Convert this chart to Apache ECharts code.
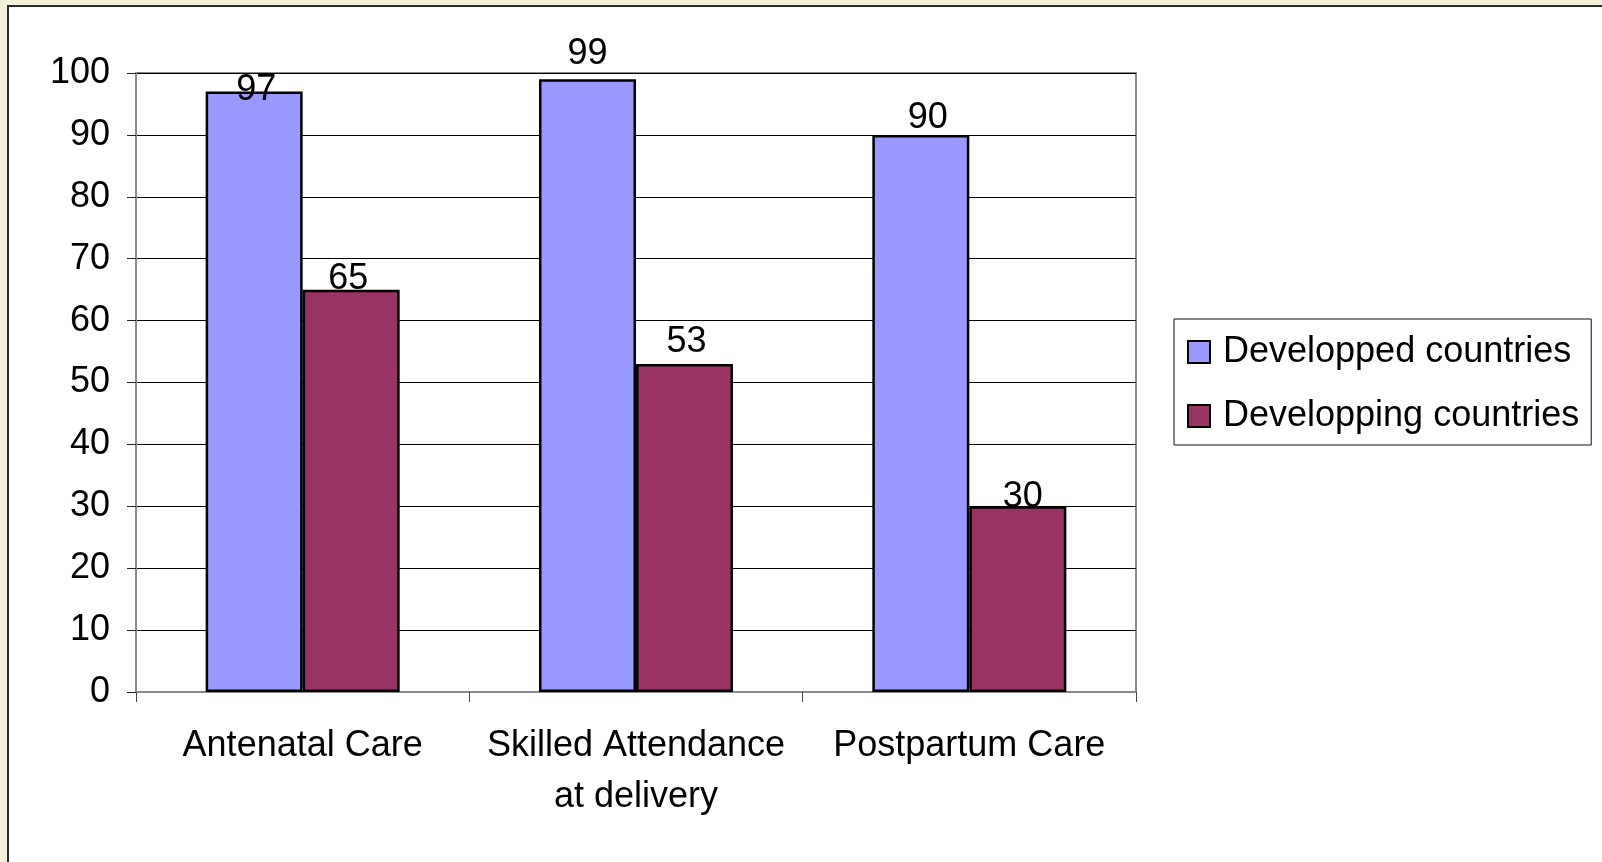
<!DOCTYPE html>
<html>
<head>
<meta charset="utf-8">
<script src="https://cdn.jsdelivr.net/npm/echarts@6/dist/echarts.min.js"></script>
<style>
  html, body { margin: 0; padding: 0; background: #F2F0D9; }
  #chart { width: 1602px; height: 862px; }
</style>
</head>
<body>
<div id="chart"></div>
<script>
// Coverage of maternal care services, developed vs developing countries (%)
const categories = ['Antenatal Care', 'Skilled Attendance\nat delivery', 'Postpartum Care'];
const developed = [97, 99, 90];
const developing = [65, 53, 30];
const yTicks = { min: 0, max: 100, interval: 10 };

// Per-label nudges [dx, dy] for the value labels
const developedLabelNudge = [[2, 17], [0, -7], [7, 1]];
const developingLabelNudge = [[-3, 7], [2, -4], [5, 9]];

const FONT = "'Liberation Sans', Arial, sans-serif";

function withLabels(values, nudges) {
  return values.map((v, i) => ({
    value: v,
    label: { offset: nudges[i] }
  }));
}

const barLabel = {
  show: true,
  position: 'top',
  distance: 0,
  color: '#000',
  fontSize: 36,
  fontFamily: FONT
};

const chart = echarts.init(document.getElementById('chart'), null, { renderer: 'canvas' });

chart.setOption({
  backgroundColor: '#F2F0D9',
  animation: false,
  graphic: [{
    type: 'rect',
    z: -100,
    silent: true,
    shape: { x: 8, y: 6, width: 1620, height: 880 },
    style: { fill: '#ffffff', stroke: '#2a2a2a', lineWidth: 2 }
  }],
  grid: {
    left: 136, top: 73, right: 466, bottom: 170,
    show: true,
    backgroundColor: '#ffffff',
    borderColor: '#8a8a8a',
    borderWidth: 2
  },
  legend: {
    orient: 'vertical',
    left: 1174,
    top: 319,
    padding: [15, 12, 11, 13],
    itemWidth: 22,
    itemHeight: 22,
    itemGap: 28,
    borderColor: '#111',
    borderWidth: 1,
    backgroundColor: '#ffffff',
    icon: 'rect',
    textStyle: { fontSize: 36, fontFamily: FONT, color: '#000', padding: [0, 0, 0, 8] },
    data: [
      { name: 'Developped countries', itemStyle: { borderColor: '#000', borderWidth: 2 } },
      { name: 'Developping countries', itemStyle: { borderColor: '#000', borderWidth: 2 } }
    ]
  },
  xAxis: {
    type: 'category',
    data: categories,
    axisLine: { show: true, lineStyle: { color: '#8a8a8a', width: 2 } },
    axisTick: { show: true, inside: false, length: 10, lineStyle: { color: '#444', width: 1 } },
    axisLabel: {
      margin: 29,
      color: '#000',
      fontSize: 36,
      fontFamily: FONT,
      lineHeight: 51,
      interval: 0
    },
    splitLine: { show: false }
  },
  yAxis: {
    type: 'value',
    min: yTicks.min,
    max: yTicks.max,
    interval: yTicks.interval,
    axisLine: { show: true, lineStyle: { color: '#8a8a8a', width: 2 } },
    axisTick: { show: true, inside: false, length: 9, lineStyle: { color: '#222', width: 1 } },
    axisLabel: { margin: 26, color: '#000', fontSize: 36, fontFamily: FONT },
    splitLine: { show: true, lineStyle: { color: '#000', width: 1 } }
  },
  series: [
    {
      name: 'Developped countries',
      type: 'bar',
      barWidth: 97,
      barGap: '0%',
      data: withLabels(developed, developedLabelNudge),
      itemStyle: { color: '#9999FF', borderColor: '#000', borderWidth: 2.5 },
      label: barLabel
    },
    {
      name: 'Developping countries',
      type: 'bar',
      barWidth: 97,
      barGap: '0%',
      data: withLabels(developing, developingLabelNudge),
      itemStyle: { color: '#993366', borderColor: '#000', borderWidth: 2.5 },
      label: barLabel
    }
  ]
});
</script>
</body>
</html>
